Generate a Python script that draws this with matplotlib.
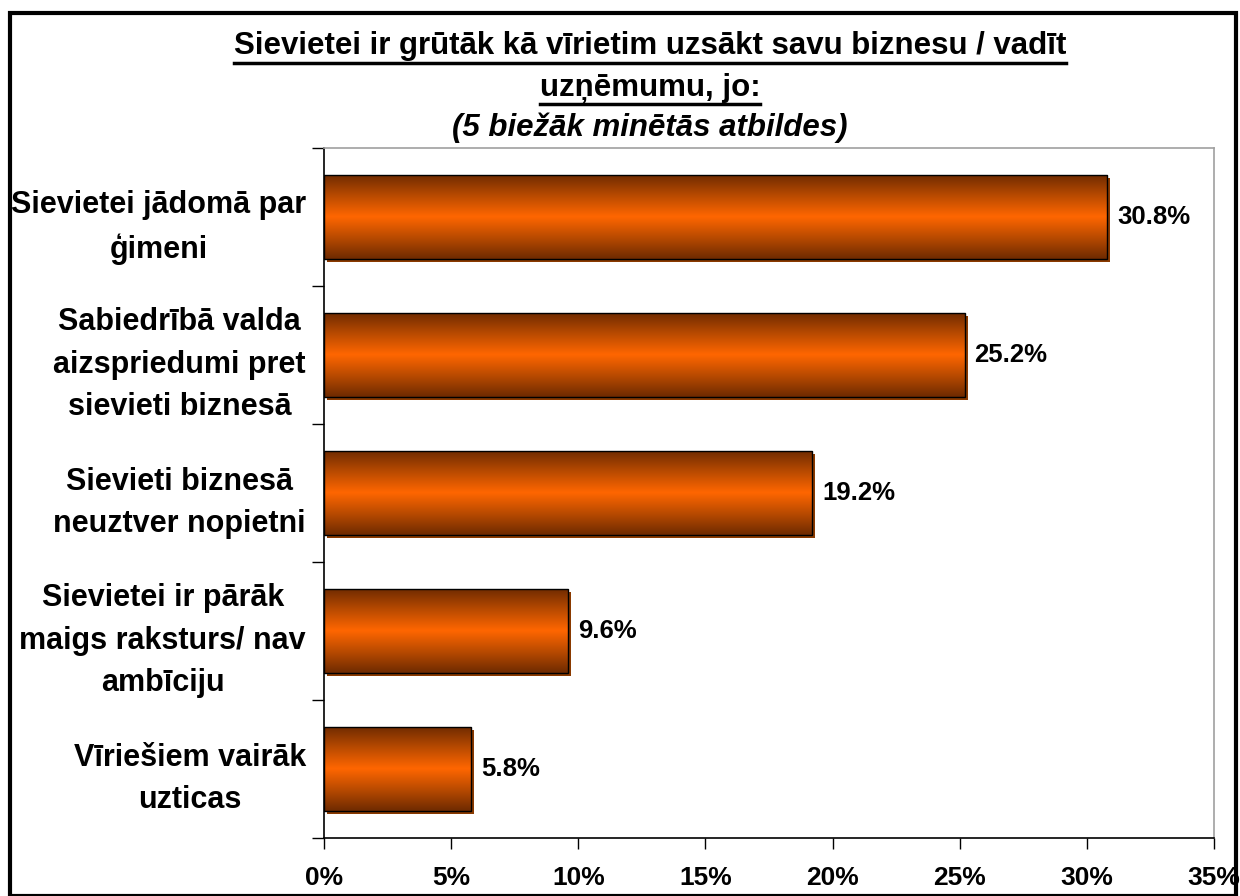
import matplotlib
matplotlib.use("Agg")
import matplotlib.pyplot as plt
import numpy as np
from matplotlib.colors import LinearSegmentedColormap
from matplotlib.transforms import ScaledTranslation
from matplotlib.patches import Rectangle
from matplotlib.lines import Line2D

categories = [
    "Sievietei jādomā par\nģimeni",
    "Sabiedrībā valda\naizspriedumi pret\nsievieti biznesā",
    "Sievieti biznesā\nneuztver nopietni",
    "Sievietei ir pārāk\nmaigs raksturs/ nav\nambīciju",
    "Vīriešiem vairāk\nuzticas",
]
values = [30.8, 25.2, 19.2, 9.6, 5.8]
xticks = [0, 5, 10, 15, 20, 25, 30, 35]
xticklabels = ["0%", "5%", "10%", "15%", "20%", "25%", "30%", "35%"]
title_line1 = "Sievietei ir grūtāk kā vīrietim uzsākt savu biznesu / vadīt"
title_line2 = "uzņēmumu, jo:"
title_line3 = "(5 biežāk minētās atbildes)"

plt.rcParams['font.family'] = ['Liberation Sans', 'DejaVu Sans']
W, H = 1240, 896
fig = plt.figure(figsize=(W / 100, H / 100), dpi=100)
ax = fig.add_axes([324 / W, 1 - 838 / H, (1214 - 324) / W, (838 - 148) / H])

ypos = np.arange(len(values))
bh = 0.61
cmap = LinearSegmentedColormap.from_list(
    "bar", ["#6e2a00", "#b84a00", "#ff6600", "#b84a00", "#6e2a00"])

shadow_tr = ax.transData + ScaledTranslation(3 / 100, -3 / 100, fig.dpi_scale_trans)
ax.barh(ypos, values, height=bh, color="#8a3a00", transform=shadow_tr, zorder=2)
bars = ax.barh(ypos, values, height=bh, facecolor="none", edgecolor="black",
               linewidth=1.0, zorder=4)
grad = np.linspace(0, 1, 256).reshape(-1, 1)
for b, v, y in zip(bars, values, ypos):
    im = ax.imshow(grad, extent=[0, v, y + bh / 2, y - bh / 2], aspect="auto",
                   cmap=cmap, zorder=3, interpolation="bilinear")
    im.set_clip_path(b)
    ax.text(v + 0.38, y, f"{v:.1f}%", va="center", ha="left",
            fontsize=18.5, fontweight="bold", zorder=5)

ax.set_xlim(0, 35)
ax.set_ylim(len(values) - 0.5, -0.5)
ax.set_xticks(xticks)
ax.set_xticklabels(xticklabels, fontsize=19, fontweight="bold")
ax.set_yticks(np.arange(len(values) + 1) - 0.5, minor=False)
ax.set_yticklabels([])
ax.set_yticks(ypos, minor=True)
ax.set_yticklabels(categories, minor=True, fontsize=22, fontweight="bold",
                   ha="right", multialignment="center", linespacing=1.55)
ax.tick_params(axis="y", which="minor", length=0, pad=13)
ax.tick_params(axis="y", which="major", length=9, width=1, direction="out")
ax.tick_params(axis="x", length=8, width=1, direction="out", pad=12)
ax.spines["left"].set_color("black")
ax.spines["bottom"].set_color("black")
ax.spines["top"].set_color("#a0a0a0")
ax.spines["right"].set_color("#a0a0a0")
for s in ax.spines.values():
    s.set_linewidth(1.2)

# titles
t1 = fig.text(650 / W, 1 - 46 / H, title_line1, ha="center", va="center",
              fontsize=22.5, fontweight="bold")
t2 = fig.text(650 / W, 1 - 88 / H, title_line2, ha="center", va="center",
              fontsize=22.5, fontweight="bold")
t3 = fig.text(650 / W, 1 - 128 / H, title_line3, ha="center", va="center",
              fontsize=22.5, fontweight="bold", style="italic")
fig.canvas.draw()
r = fig.canvas.get_renderer()
for t, uy in [(t1, 63), (t2, 104)]:
    bb = t.get_window_extent(r)
    fig.add_artist(Line2D([bb.x0 / W, bb.x1 / W], [1 - uy / H, 1 - uy / H],
                          color="black", linewidth=2.5, transform=fig.transFigure))

fig.add_artist(Rectangle((9.5 / W, 0), (1236 - 9.5) / W, 1 - 13.5 / H, fill=False,
                         edgecolor="black", linewidth=3, transform=fig.transFigure))

fig.savefig("out.png", dpi=100)
